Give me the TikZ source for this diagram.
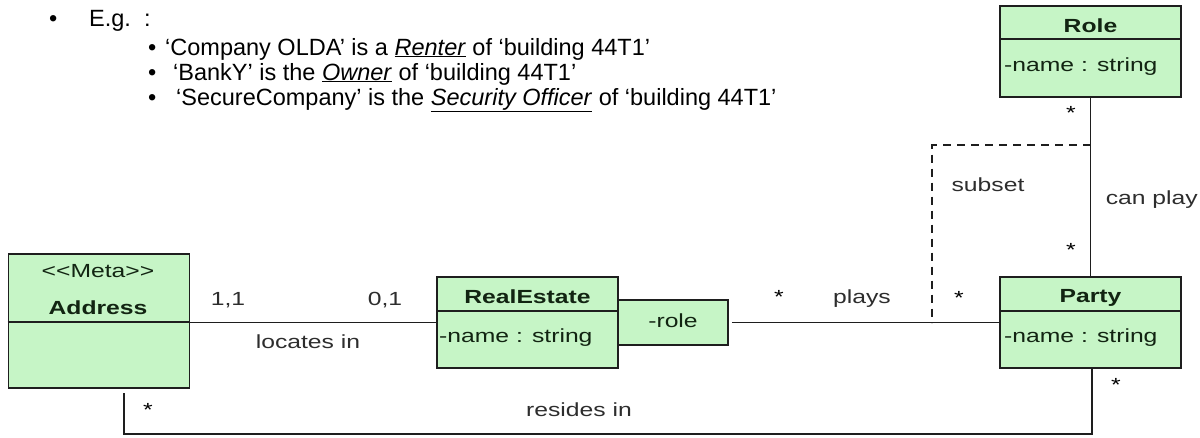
\documentclass[tikz,border=0pt]{standalone}
\usepackage{fontspec}
\setmainfont{Liberation Sans}
\newfontfamily\dg[FakeStretch=1.3]{Liberation Sans}
\definecolor{boxfill}{RGB}{198,245,198}
\definecolor{boxline}{RGB}{30,30,30}
\definecolor{boxtext}{RGB}{18,36,18}
\definecolor{lbl}{RGB}{45,45,45}
\begin{document}
\begin{tikzpicture}[x=1pt,y=-1pt,
  classbox/.style={draw=boxline, fill=boxfill, line width=1.6pt, inner sep=0pt, minimum width=181pt, minimum height=91pt},
  divider/.style={draw=boxline, line width=1.6pt},
  conn/.style={draw=boxline, line width=1.4pt},
  dashconn/.style={draw=boxline, line width=1.4pt, dash pattern=on 8pt off 6pt},
  intext/.style={font=\dg\fontsize{19}{22}\selectfont, text=boxtext, inner sep=0pt, anchor=base},
  intitle/.style={font=\dg\bfseries\fontsize{19}{22}\selectfont, text=boxtext, inner sep=0pt, anchor=base},
  inattr/.style={font=\dg\fontsize{19}{22}\selectfont, text=boxtext, inner sep=0pt, anchor=base west},
  lab/.style={font=\dg\fontsize{19}{22}\selectfont, text=lbl, inner sep=0pt, anchor=base},
  star/.style={font=\dg\fontsize{19}{22}\selectfont, text=black, inner sep=0pt, anchor=base},
  toptext/.style={font=\fontsize{23.5}{26}\selectfont, text=black, inner sep=0pt, anchor=base west}
]
\clip (0,0) rectangle (1200,437);
\fill[white] (0,0) rectangle (1200,437);

% ---- top text ----
\node[toptext] (b0) at (49,26) {•};
\node[toptext] (t0) at (89,26) {E.g.~~:};
\node[toptext] (b1) at (148,55) {•};
\node[toptext] (t1) at (165,55) {‘Company OLDA’ is a \underline{\textit{Renter}} of ‘building 44T1’};
\node[toptext] (b2) at (148,80) {•};
\node[toptext] (t2) at (173,80) {‘BankY’ is the \underline{\textit{Owner}} of ‘building 44T1’};
\node[toptext] (b3) at (148,105) {•};
\node[toptext] (t3) at (176,105) {‘SecureCompany’ is the \underline{\textit{Security Officer}} of ‘building 44T1’};

\coordinate (dtop) at (1090.5,145);
\coordinate (dcorner) at (932,145);
\coordinate (dbot) at (932,322.5);

% ---- class boxes ----
\node[classbox, minimum height=134pt] (addr) at (99,321) {};
\node[classbox] (re) at (527.5,322.5) {};
\node[classbox, minimum width=110pt, minimum height=45pt] (rl) at (673,322.5) {};
\node[classbox] (party) at (1090.5,322.5) {};
\node[classbox] (role) at (1090.5,51.5) {};

\draw[divider] (addr.west |- 0,322) -- (addr.east |- 0,322);
\draw[divider] (re.west |- 0,311) -- (re.east |- 0,311);
\draw[divider] (party.west |- 0,311) -- (party.east |- 0,311);
\draw[divider] (role.west |- 0,39) -- (role.east |- 0,39);

% ---- box texts ----
\node[intext] (addrst) at (98,277) {<{}<Meta>{}>};
\node[intitle] (addrt) at (98,314) {Address};
\node[intitle] (ret) at (527.5,303) {RealEstate};
\node[inattr] (rea) at (439,342) {-name : string};
\node[intext] (rlt) at (673,327) {-role};
\node[intitle] (partyt) at (1090.5,302) {Party};
\node[inattr] (partya) at (1004,342) {-name : string};
\node[intitle] (rolet) at (1090.5,32) {Role};
\node[inattr] (rolea) at (1004,71) {-name : string};

% ---- connectors ----
\draw[conn] (addr.east |- re.west) -- (re.west);
\draw[conn] ([xshift=3pt]rl.east) -- (party.west);
\draw[conn] (role.south) -- (party.north);
\draw[dashconn] (dtop) -- (dcorner) -- (dbot);
\coordinate (rbr) at (1092,434);
\coordinate (rbl) at (124,434);
\draw[conn] ([xshift=1.5pt]party.south) -- (rbr) -- (rbl) -- ([xshift=25pt,yshift=-4pt]addr.south);

% ---- labels ----
\node[lab] (l11) at (228,305) {1,1};
\node[lab] (l01) at (385,305) {0,1};
\node[lab] (lloc) at (308,348) {locates in};
\node[lab] (lplays) at (862,303) {plays};
\node[lab] (lres) at (579,416) {resides in};
\node[lab] (lsub) at (988,191) {subset};
\node[lab, anchor=base east] (lcan) at (1198,204) {can play};

\node[star] (s1) at (1071,119) {*};
\node[star] (s2) at (1071,256) {*};
\node[star] (s3) at (959,304) {*};
\node[star] (s4) at (1116,391) {*};
\node[star] (s5) at (779,303) {*};
\node[star] (s6) at (148,416) {*};
\end{tikzpicture}
\end{document}
